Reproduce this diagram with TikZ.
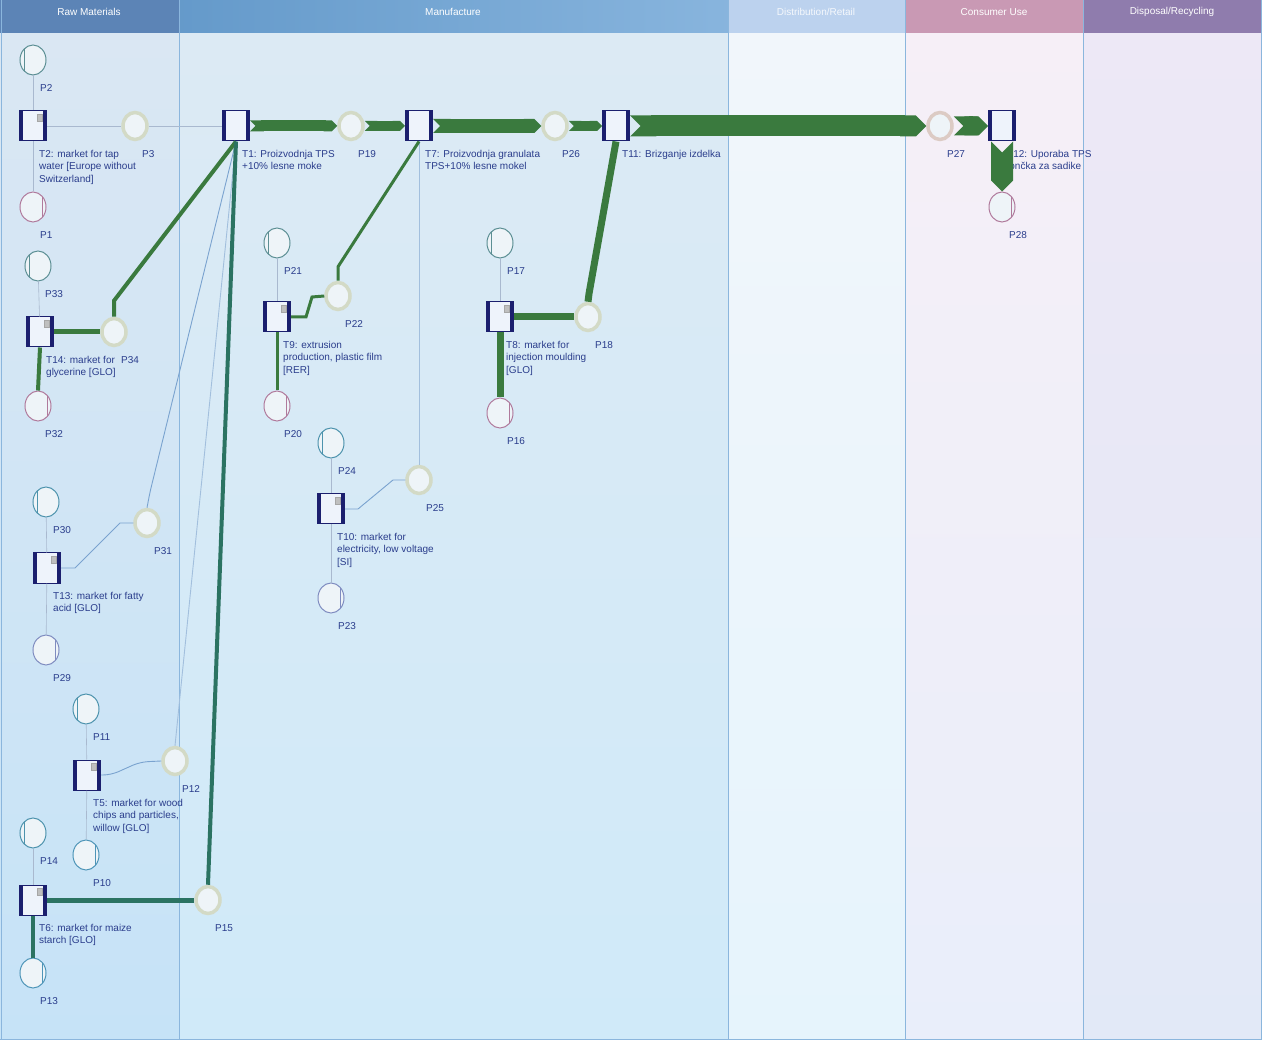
\documentclass[tikz,border=0pt]{standalone}
\usepackage{fontspec}
\setmainfont{Liberation Sans}
\usetikzlibrary{arrows.meta}
\usetikzlibrary{shapes.geometric}

\definecolor{navyc}{HTML}{1B1F6E}
\definecolor{boxfill}{HTML}{EEF3FB}
\definecolor{flowgreen}{HTML}{3A7A3E}
\definecolor{lowgreen}{HTML}{2B7362}
\definecolor{ringc}{HTML}{D3DAC6}
\definecolor{ringpink}{HTML}{DCCBC4}
\definecolor{placefill}{HTML}{EEF4F8}
\definecolor{txtc}{HTML}{2A3D8C}
\definecolor{thinc}{HTML}{A9B9CF}
\definecolor{linkc}{HTML}{7AA3CF}
\definecolor{inc}{HTML}{5C8F94}
\definecolor{inlow}{HTML}{4D93AD}
\definecolor{outc}{HTML}{B07A9C}
\definecolor{outlow}{HTML}{7F8CC0}
\definecolor{outteal}{HTML}{4E95B8}
\definecolor{rawhead}{HTML}{5C84B6}
\definecolor{rawtop}{HTML}{DAE7F3}
\definecolor{rawbot}{HTML}{C6E3F7}
\definecolor{manhead}{HTML}{6AA2D5}
\definecolor{mantop}{HTML}{DCEAF4}
\definecolor{manbot}{HTML}{D0EAF9}
\definecolor{dishead}{HTML}{BCD2EE}
\definecolor{distop}{HTML}{F1F6FB}
\definecolor{disbot}{HTML}{E6F4FC}
\definecolor{conhead}{HTML}{C999B4}
\definecolor{contop}{HTML}{F6EFF7}
\definecolor{conbot}{HTML}{E9EEFA}
\definecolor{dsphead}{HTML}{8F7CAD}
\definecolor{dsptop}{HTML}{EDE8F6}
\definecolor{dspbot}{HTML}{E2E9F7}
\definecolor{lanec}{HTML}{8BB6DD}

\begin{document}
\begin{tikzpicture}[x=1pt,y=-1pt,font=\fontsize{10}{12.5}\selectfont,
  headtext/.style={text=white,font=\fontsize{10}{12}\selectfont},
  laneline/.style={draw=lanec,line width=0.8pt},
  inplace/.style={ellipse,minimum width=26pt,minimum height=30pt,inner sep=0pt,fill=placefill,draw=#1,line width=1pt,
    path picture={\draw[#1,line width=0.8pt] ([xshift=4pt]path picture bounding box.north west) -- ([xshift=4pt]path picture bounding box.south west);}},
  outplace/.style={ellipse,minimum width=26pt,minimum height=30pt,inner sep=0pt,fill=placefill,draw=#1,line width=1pt,
    path picture={\draw[#1,line width=0.8pt] ([xshift=-4pt]path picture bounding box.north east) -- ([xshift=-4pt]path picture bounding box.south east);}},
  ringplace/.style={ellipse,minimum width=24pt,minimum height=27pt,inner sep=0pt,fill=placefill,draw=#1,line width=3.5pt},
  trans/.style={rectangle,minimum width=27pt,minimum height=30pt,inner sep=0pt,fill=boxfill,draw=navyc,line width=1pt,
    path picture={\draw[navyc,line width=7pt] (path picture bounding box.north west) -- (path picture bounding box.south west) (path picture bounding box.north east) -- (path picture bounding box.south east);}},
  icon/.style={fill=black!25,draw=black!35,line width=0.4pt},
  plabel/.style={anchor=west,inner sep=0pt,text=txtc},
  tlabel/.style={anchor=north west,inner sep=0pt,align=left,text=txtc},
  thin/.style={draw=thinc,line width=0.6pt},
  link/.style={draw=linkc,line width=0.9pt},
  flow/.style={draw=flowgreen},
  band/.style={draw=flowgreen,{Triangle Cap[reversed]}-{Triangle Cap}}]

\useasboundingbox (0,0) rectangle (1262,1040);

\shade[top color=rawtop,bottom color=rawbot] (0,33) rectangle (179,1040);
\shade[top color=mantop,bottom color=manbot] (179,33) rectangle (728,1040);
\shade[top color=distop,bottom color=disbot] (728,33) rectangle (905,1040);
\shade[top color=contop,bottom color=conbot] (905,33) rectangle (1083,1040);
\shade[top color=dsptop,bottom color=dspbot] (1083,33) rectangle (1262,1040);

\fill[rawhead] (0,0) rectangle (179,33);
\shade[left color=manhead!95!black,right color=manhead!80!white] (179,0) rectangle (728,33);
\fill[dishead] (728,0) rectangle (905,33);
\fill[conhead] (905,0) rectangle (1083,33);
\fill[dsphead] (1083,0) rectangle (1262,33);

\node[headtext] (rawtitle) at (89,12) {Raw Materials};
\node[headtext] (mantitle) at (453,12) {Manufacture};
\node[headtext,text=white!85!dishead] (distitle) at (816,12) {Distribution/Retail};
\node[headtext] (contitle) at (994,12) {Consumer Use};
\node[headtext] (dsptitle) at (1172,12) {Disposal/Recycling};

\draw[laneline] (1,0) -- (1,1040);
\draw[laneline] (179,0) -- (179,1040);
\draw[laneline] (728,0) -- (728,1040);
\draw[laneline] (905,0) -- (905,1040);
\draw[laneline] (1083,0) -- (1083,1040);
\draw[laneline] (1261,0) -- (1261,1040);
\draw[laneline] (0,1039) -- (1262,1039);

\newcommand\drawIn[4]{\node[inplace=#4] at (#1,#2) (#3) {}; \node[plabel] at (#1+7,#2+28) {#3};}
\newcommand\drawOut[4]{\node[outplace=#4] at (#1,#2) (#3) {}; \node[plabel] at (#1+7,#2+28) {#3};}
\newcommand\drawRing[4]{\node[ringplace=#4] at (#1,#2) (#3) {}; \node[plabel] at (#1+7,#2+28) {#3};}
\newcommand\drawTrans[4]{\node[trans] at (#1,#2) (#3) {}; \node[tlabel] at (#1+6,#2+24) {#4};}
\newcommand\drawMarket[4]{\drawTrans{#1}{#2}{#3}{#4} \filldraw[icon] (#1+4,#2-12) rectangle (#1+9,#2-5);}

\node[tlabel] (T12text) at (1007,150) {T12: Uporaba TPS\\lončka za sadike};

\drawIn{33}{60}{P2}{inc}
\drawIn{38}{266}{P33}{inc}
\drawIn{46}{502}{P30}{inlow}
\drawIn{86}{709}{P11}{inlow}
\drawIn{33}{833}{P14}{inlow}
\drawIn{277}{243}{P21}{inc}
\drawIn{331}{443}{P24}{inlow}
\drawIn{500}{243}{P17}{inc}

\drawOut{33}{207}{P1}{outc}
\drawOut{38}{406}{P32}{outc}
\drawOut{46}{650}{P29}{outlow}
\drawOut{86}{855}{P10}{outteal}
\drawOut{33}{973}{P13}{outteal}
\drawOut{277}{406}{P20}{outc}
\drawOut{331}{598}{P23}{outlow}
\drawOut{500}{413}{P16}{outc}
\drawOut{1002}{207}{P28}{outc}

\drawRing{135}{126}{P3}{ringc}
\drawRing{114}{332}{P34}{ringc}
\drawRing{147}{523}{P31}{ringc}
\drawRing{175}{761}{P12}{ringc}
\drawRing{208}{900}{P15}{ringc}
\drawRing{351}{126}{P19}{ringc}
\drawRing{555}{126}{P26}{ringc}
\drawRing{338}{296}{P22}{ringc}
\drawRing{419}{480}{P25}{ringc}
\drawRing{588}{317}{P18}{ringc}
\drawRing{940}{126}{P27}{ringpink}

\drawMarket{33}{126}{T2}{T2: market for tap\\water [Europe without\\Switzerland]}
\drawTrans{236}{126}{T1}{T1: Proizvodnja TPS\\+10\% lesne moke}
\drawTrans{419}{126}{T7}{T7: Proizvodnja granulata\\TPS+10\% lesne mokel}
\drawTrans{616}{126}{T11}{T11: Brizganje izdelka}
\node[trans] at (1002,126) (T12) {};
\drawMarket{40}{332}{T14}{T14: market for\\glycerine [GLO]}
\drawMarket{277}{317}{T9}{T9: extrusion\\production, plastic film\\{[RER]}}
\drawMarket{500}{317}{T8}{T8: market for\\injection moulding\\{[GLO]}}
\drawMarket{331}{509}{T10}{T10: market for\\electricity, low voltage\\{[SI]}}
\drawMarket{47}{568}{T13}{T13: market for fatty\\acid [GLO]}
\drawMarket{87}{775}{T5}{T5: market for wood\\chips and particles,\\willow [GLO]}
\drawMarket{33}{900}{T6}{T6: market for maize\\starch [GLO]}

\draw[thin] (P2) -- (T2);
\draw[thin] (T2) -- (P1);
\draw[thin] (T2) -- (P3);
\draw[thin] (P3) -- (T1);
\draw[thin] (P33) -- (T14);
\draw[thin] (P21) -- (T9);
\draw[thin] (P17) -- (T8);
\draw[thin] (P24) -- (T10);
\draw[thin] (T10) -- (P23);
\draw[thin] (P30) -- (T13);
\draw[thin] (T13) -- (P29);
\draw[thin] (P11) -- (T5);
\draw[thin] (T5) -- (P10);
\draw[thin] (P14) -- (T6);

\draw[link] (T13.east) -- ++(14,0) -- (120,523) -- (P31.west);
\draw[link,rounded corners=6pt] (P31.north) -- (150,492) -- (T1.south);
\draw[link,rounded corners=8pt] (T5.east) -- ++(10,0) -- (140,762) -- (P12.west);
\draw[link,draw=linkc!70] (P12.north) -- (T1.south);
\draw[link] (T10.east) -- ++(13,0) -- (393,480) -- (P25.west);
\draw[link,draw=linkc!70] (P25.north) -- (T7.south);

\draw[flow,line width=5pt] (T14.east) -- (P34.west);
\draw[flow,line width=4pt] (P34.north) -- ++(0,-16) -- (T1.south);
\draw[flow,line width=4pt] (T14.south) -- (P32.north);
\draw[flow,line width=3pt] (T9.east) -- ++(15,0) -- (312,297) -- (P22.west);
\draw[flow,line width=3pt] (P22.north) -- ++(0,-14) -- (T7.south);
\draw[flow,line width=3pt] (T9.south) -- (P20.north);
\draw[flow,line width=7pt] (T8.east) -- (P18.west);
\draw[flow,line width=7pt] (P18.north) -- ++(1,-8) -- (T11.south);
\draw[flow,line width=7pt] (T8.south) -- (P16.north);
\draw[flow,draw=lowgreen,line width=5pt] (T6.east) -- (P15.west);
\draw[flow,draw=lowgreen,line width=4pt] (P15.north) -- (T1.south);
\draw[flow,draw=lowgreen,line width=4pt] (T6.south) -- (P13.north);

\draw[band,line width=11pt] (T1.east) -- (P19.west);
\draw[band,line width=10pt] (P19.east) -- (T7.west);
\draw[band,line width=14pt] (T7.east) -- (P26.west);
\draw[band,line width=10pt] (P26.east) -- (T11.west);
\draw[band,line width=21pt] (T11.east) -- (P27.west);
\draw[band,line width=19pt] (P27.east) -- (T12.west);
\draw[band,line width=22pt] (T12.south) -- (P28.north);

\end{tikzpicture}
\end{document}
